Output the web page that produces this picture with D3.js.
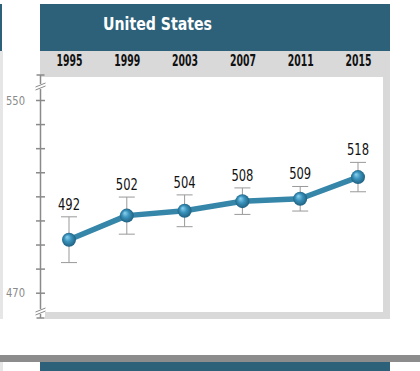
<!DOCTYPE html>
<html>
<head>
<meta charset="utf-8">
<script src="https://cdn.jsdelivr.net/npm/d3@7"></script>
<style>
  body { margin: 0; background: #fff; }
  svg { display: block; }
</style>
</head>
<body>
<svg id="chart" width="420" height="371"></svg>
<script>
const title = "United States";
const years = ["1995", "1999", "2003", "2007", "2011", "2015"];
const scores = [492, 502, 504, 508, 509, 518];
const errors = [9.5, 7.7, 6.6, 5.5, 5.1, 6.1];
const yTicks = [470, 480, 490, 500, 510, 520, 530, 540, 550];
const yTickLabels = ["470", "550"];

const svg = d3.select("#chart");
const narrow = "'Liberation Sans Narrow', 'DejaVu Sans Condensed', sans-serif";
const teal = "#2c6179";
const frame = "#d9d9d9";

// squeeze text to the condensed widths of the original
function squeeze(sel, w) {
  sel.attr("textLength", w).attr("lengthAdjust", "spacingAndGlyphs");
}

// sphere shading
const grad = svg.append("defs").append("radialGradient")
  .attr("id", "ball").attr("cx", "50%").attr("cy", "50%").attr("r", "55%")
  .attr("fx", "35%").attr("fy", "30%");
grad.append("stop").attr("offset", "0%").attr("stop-color", "#8fd3f0");
grad.append("stop").attr("offset", "45%").attr("stop-color", "#3a93bd");
grad.append("stop").attr("offset", "100%").attr("stop-color", "#1c5a78");

// side slivers from neighbouring panels
svg.append("rect").attr("x", 0).attr("y", 4).attr("width", 2).attr("height", 47).attr("fill", teal);
svg.append("rect").attr("x", 0).attr("y", 51).attr("width", 3).attr("height", 268).attr("fill", "#e6e6e6");

// header
svg.append("rect").attr("x", 40).attr("y", 4).attr("width", 350).attr("height", 47).attr("fill", teal);
svg.append("text").attr("x", 157.5).attr("y", 30)
  .attr("text-anchor", "middle").attr("fill", "#fff")
  .style("font-family", narrow).style("font-weight", "bold").style("font-size", "18px")
  .text(title)
  .call(squeeze, 109);

// gray frame
svg.append("rect").attr("x", 40).attr("y", 51).attr("width", 350).attr("height", 26).attr("fill", frame);
svg.append("rect").attr("x", 383).attr("y", 77).attr("width", 7).attr("height", 242).attr("fill", frame);
svg.append("rect").attr("x", 45).attr("y", 312).attr("width", 345).attr("height", 7).attr("fill", frame);

// next panel at the bottom
svg.append("rect").attr("x", 0).attr("y", 355).attr("width", 420).attr("height", 7).attr("fill", "#8c8c8c");
svg.append("rect").attr("x", 40).attr("y", 362).attr("width", 350).attr("height", 12).attr("fill", teal);
svg.append("rect").attr("x", 0).attr("y", 362).attr("width", 3).attr("height", 12).attr("fill", "#e6e6e6");

const x = d3.scalePoint().domain(years).range([69, 358]);
const y = d3.scaleLinear().domain([470, 550]).range([292.7, 100]);

// year labels
const xAxis = svg.append("g").attr("transform", "translate(0,66)")
  .call(d3.axisTop(x).tickSize(0).tickPadding(0));
xAxis.select(".domain").remove();
xAxis.selectAll("text").attr("fill", "#111")
  .style("font-family", narrow).style("font-weight", "bold").style("font-size", "15px")
  .call(squeeze, 26);

// y axis with breaks
const axisColor = "#8a8a8a";
const yAxis = svg.append("g").attr("transform", "translate(45,0)")
  .call(d3.axisLeft(y).tickValues(yTicks).tickSize(9).tickSizeOuter(0).tickPadding(11)
    .tickFormat(d => yTickLabels.includes(String(d)) ? d : ""));
yAxis.select(".domain").remove();
yAxis.selectAll("line").attr("stroke", axisColor).attr("stroke-width", 1.5);
yAxis.selectAll("text").attr("fill", axisColor)
  .style("font-family", narrow).style("font-size", "13px");
yAxis.selectAll("text").filter(d => yTickLabels.includes(String(d))).call(squeeze, 19);

const ax = 40.5;
const axisG = svg.append("g").attr("stroke", axisColor).attr("stroke-width", 1.5).attr("fill", "none");
axisG.append("line").attr("x1", ax).attr("x2", ax).attr("y1", 75).attr("y2", 84);
axisG.append("line").attr("x1", ax).attr("x2", ax).attr("y1", 89).attr("y2", 309);
axisG.append("line").attr("x1", ax).attr("x2", ax).attr("y1", 314).attr("y2", 318);
axisG.append("line").attr("x1", ax - 4).attr("x2", ax + 4).attr("y1", 75).attr("y2", 75);
axisG.append("line").attr("x1", ax - 4).attr("x2", ax + 4).attr("y1", 318).attr("y2", 318);
[[86, 84], [89, 87], [311, 309], [314, 312]].forEach(([a, b]) => {
  axisG.append("line").attr("x1", ax - 5).attr("x2", ax + 5).attr("y1", a + 1).attr("y2", b - 1)
    .attr("stroke-width", 1);
});

const data = years.map((yr, i) => ({ yr, v: scores[i], e: errors[i] }));

// error bars
const eb = svg.append("g").attr("stroke", "#999").attr("stroke-width", 1);
data.forEach(d => {
  const cx = x(d.yr);
  eb.append("line").attr("x1", cx).attr("x2", cx).attr("y1", y(d.v + d.e)).attr("y2", y(d.v - d.e));
  eb.append("line").attr("x1", cx - 8).attr("x2", cx + 8).attr("y1", y(d.v + d.e)).attr("y2", y(d.v + d.e));
  eb.append("line").attr("x1", cx - 8).attr("x2", cx + 8).attr("y1", y(d.v - d.e)).attr("y2", y(d.v - d.e));
});

// line
svg.append("path").datum(data)
  .attr("fill", "none").attr("stroke", "#3586a8").attr("stroke-width", 5.5)
  .attr("stroke-linejoin", "round")
  .attr("d", d3.line().x(d => x(d.yr)).y(d => y(d.v)));

// points
svg.append("g").selectAll("circle").data(data).join("circle")
  .attr("cx", d => x(d.yr)).attr("cy", d => y(d.v)).attr("r", 7)
  .attr("fill", "url(#ball)");

// value labels
svg.append("g").selectAll("text").data(data).join("text")
  .attr("x", d => x(d.yr)).attr("y", d => y(d.v + d.e) - 7)
  .attr("text-anchor", "middle").attr("fill", "#111")
  .style("font-family", narrow).style("font-size", "16px")
  .text(d => d.v)
  .call(squeeze, 22);
</script>
</body>
</html>
